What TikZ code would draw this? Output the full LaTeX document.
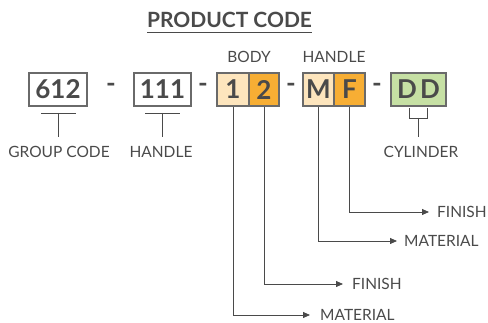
\documentclass[tikz,border=0pt]{standalone}
\usepackage{fontspec}
\setmainfont{Lato}
\usetikzlibrary{arrows.meta}
\definecolor{ink}{HTML}{4A4A4A}
\definecolor{edge}{HTML}{6A6A6A}
\definecolor{lightor}{HTML}{FDE5BD}
\definecolor{darkor}{HTML}{F7AE34}
\definecolor{lgreen}{HTML}{C6E0A4}
\tikzset{
  codebox/.style={draw=edge, line width=1.1pt, minimum height=33pt, inner sep=0pt, font=\fontsize{26}{26}\selectfont\bfseries, text=ink},
  lbl/.style={font=\fontsize{15.5}{16}\selectfont, text=ink, inner sep=0pt},
  dsh/.style={font=\fontsize{26}{26}\selectfont\bfseries, text=ink, inner sep=0pt},
  ln/.style={draw=ink, line width=0.8pt},
  arr/.style={ln, -{Triangle[length=7pt,width=6pt]}}
}
\begin{document}
\begin{tikzpicture}[x=1pt,y=-1pt]
\useasboundingbox (0,0) rectangle (488,323);
% title
\node[font=\fontsize{21}{21}\selectfont\bfseries, text=ink, inner sep=0pt] (title) at (229.5,20) {PRODUCT CODE};
\draw[ln, line width=1pt] (147,33) -- (312,33);
% boxes
\node[codebox, minimum width=58pt] (g) at (58,89.5) {612};
\node[codebox, minimum width=57pt] (h) at (162.5,89.5) {111};
\node[codebox, minimum width=32pt, fill=lightor] (b1) at (233,89.5) {1};
\node[codebox, minimum width=30pt, fill=darkor] (b2) at (264,89.5) {2};
\node[codebox, minimum width=31pt, fill=lightor] (hm) at (318.5,89.5) {M};
\node[codebox, minimum width=31pt, fill=darkor] (hf) at (349.5,89.5) {F};
\node[codebox, minimum width=55pt, fill=lgreen] (cy) at (418.5,89.5) {D\hspace{3pt}D};
% dashes
\node[dsh] (d1) at (111,88) {-};
\node[dsh] (d2) at (203,88) {-};
\node[dsh] (d3) at (291,88) {-};
\node[dsh] (d4) at (377,88) {-};
% top labels
\node[lbl] (lbody) at (249,57) {BODY};
\node[lbl] (lhandle) at (334,57) {HANDLE};
% bottom brackets
\coordinate (gl) at (41,113); \coordinate (gr) at (76,113);
\coordinate (gs) at (58,113); \coordinate (ge) at (58,137);
\draw[ln] (gl) -- (gr); \draw[ln] (gs) -- (ge);
\node[lbl] (lgroup) at (59,152) {GROUP CODE};
\coordinate (hl) at (145,113); \coordinate (hr) at (180,113);
\coordinate (hs) at (162,113); \coordinate (he) at (162,137);
\draw[ln] (hl) -- (hr); \draw[ln] (hs) -- (he);
\node[lbl] (lhand2) at (161,152) {HANDLE};
\coordinate (c1) at (409,108); \coordinate (c2) at (427,108);
\coordinate (c3) at (418,118); \coordinate (c4) at (418,137);
\draw[ln] (c1) -- (409,118) -- (427,118) -- (c2); \draw[ln] (c3) -- (c4);
\node[lbl] (lcyl) at (421,152) {CYLINDER};
% arrow labels
\node[lbl, anchor=west] (fin1) at (437,212) {FINISH};
\node[lbl, anchor=west] (mat1) at (404,241) {MATERIAL};
\node[lbl, anchor=west] (fin2) at (352,284) {FINISH};
\node[lbl, anchor=west] (mat2) at (320,315) {MATERIAL};
% connectors
\draw[arr] (hf.south) |- ([xshift=-8pt]fin1.west);
\draw[arr] (hm.south) |- ([xshift=-7pt]mat1.west);
\draw[arr] (b2.south) |- ([xshift=-9pt]fin2.west);
\draw[arr] (b1.south) |- ([xshift=-10pt]mat2.west);
\end{tikzpicture}
\end{document}
